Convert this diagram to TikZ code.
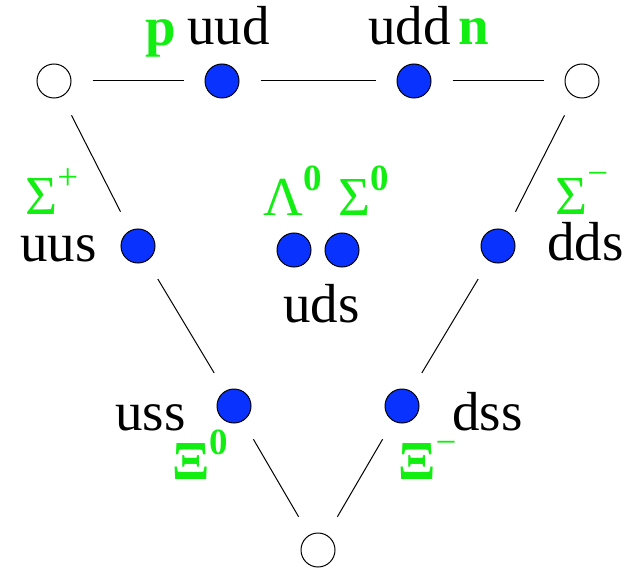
\documentclass[tikz,border=0pt]{standalone}
\usepackage{fontspec}
\setmainfont{Liberation Serif}
\usetikzlibrary{positioning}
\definecolor{quark}{HTML}{0A32FF}
\definecolor{hadron}{HTML}{12EE12}
\newcommand{\hsup}[1]{\raisebox{0.45em}{\fontsize{18.5}{18.5}\selectfont #1}}

\begin{document}
\begin{tikzpicture}[x=0.5pt,y=-0.5pt,every node/.style={font=\fontsize{27.5}{30}\selectfont,inner sep=0pt},hole/.style={circle,draw,line width=0.5pt,minimum size=17pt},dot/.style={hole,fill=quark},qtxt/.style={anchor=base west},hname/.style={anchor=base west,text=hadron},link/.style={line width=0.5pt,shorten <=10.5pt,shorten >=10.5pt}]
\useasboundingbox (0,0) rectangle (631,572);
% octet sites
\node[hole] (uuu) at (54,81) {};
\node[dot] (uud) at (222,81) {};
\node[dot] (udd) at (414,81) {};
\node[hole] (ddd) at (582,81) {};
\node[dot] (uus) at (138,246) {};
\node[dot] (uds1) at (294,250) {};
\node[dot] (uds2) at (342,250) {};
\node[dot] (dds) at (498,246) {};
\node[dot] (uss) at (234,406) {};
\node[dot] (dss) at (402,406) {};
\node[hole] (sss) at (318,550) {};
% quark content
\node[qtxt] (tuud) at (187,45) {uud};
\node[qtxt] (tudd) at (368,45) {udd};
\node[qtxt] (tuus) at (20,262) {uus};
\node[qtxt] (tuds) at (283,322) {uds};
\node[qtxt] (tdds) at (547,260) {dds};
\node[qtxt] (tuss) at (115,430) {uss};
\node[qtxt] (tdss) at (452,430) {dss};
% particle names
\node[hname,font=\fontsize{27.5}{30}\selectfont\bfseries] (np) at (145,46) {p};
\node[hname,font=\fontsize{27.5}{30}\selectfont\bfseries] (nn) at (458,45) {n};
\node[hname] (nsp) at (25,214) {Σ\hsup{+}};
\node[hname] (nl0) at (263,215) {Λ\hsup{\bfseries 0}};
\node[hname] (ns0) at (338,215) {Σ\hsup{\bfseries 0}};
\node[hname] (nsm) at (555,214) {Σ\hsup{\raisebox{0.1em}{−}}};
\node[hname] (nx0) at (172,479) {\textbf{Ξ}\hsup{\bfseries 0}};
\node[hname] (nxm) at (398,479) {\textbf{Ξ}\hsup{−}};
% edges of the triangle
\draw[link] (uuu) -- (uud);\draw[link] (uud) -- (udd);\draw[link] (udd) -- (ddd);
\draw[link] (uuu) -- (uus);\draw[link] (uus) -- (uss);\draw[link] (uss) -- (sss);
\draw[link] (ddd) -- (dds);\draw[link] (dds) -- (dss);\draw[link] (dss) -- (sss);
\end{tikzpicture}
\end{document}
